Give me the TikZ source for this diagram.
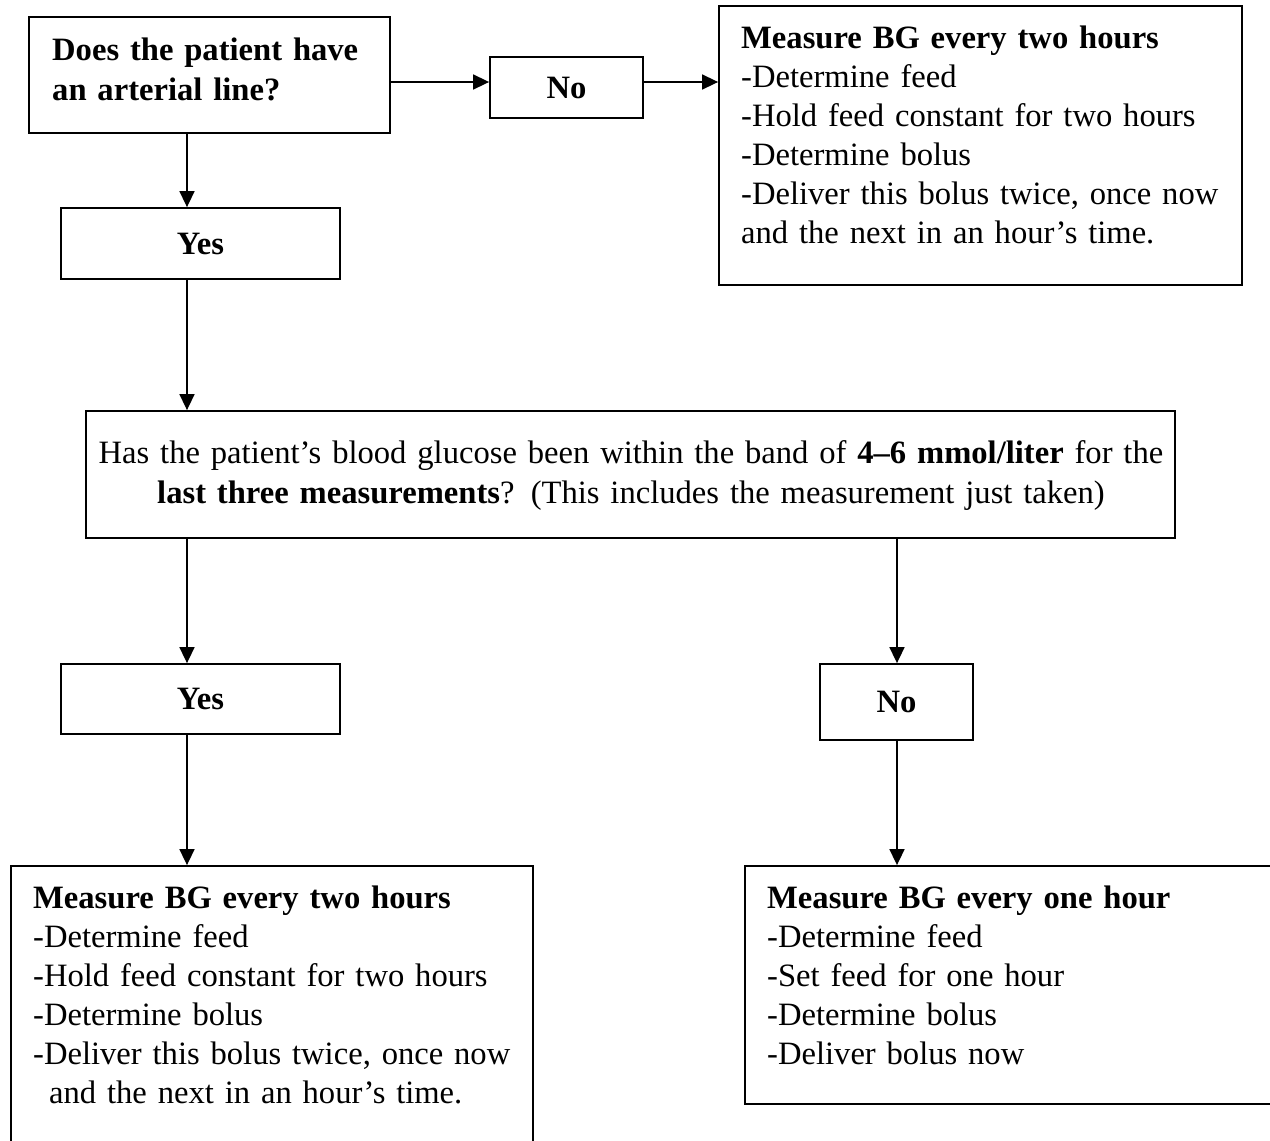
\documentclass[tikz,border=0pt]{standalone}
\usepackage{fontspec}
\setmainfont{Liberation Serif}
\usetikzlibrary{arrows.meta}
\begin{document}
\begin{tikzpicture}[x=1pt,y=-1pt,
  box/.style={draw, line width=1.8pt, inner sep=0pt},
  lbl/.style={font=\fontsize{32.6}{39}\selectfont\bfseries},
  txt/.style={font=\fontsize{32.6}{39}\selectfont, align=left, anchor=base west, inner sep=0pt, text width=#1},
  arr/.style={line width=1.6pt, -{Triangle[length=16pt,width=15pt]}}]
\fill[white] (0,0) rectangle (1270,1141);
\useasboundingbox (0,0) rectangle (1270,1141);
\clip (0,0) rectangle (1270,1141);

% boxes
\node[box, minimum width=361pt, minimum height=116pt] (A) at (209.5,75) {};
\node[box, lbl, minimum width=153pt, minimum height=61pt] (no1) at (566.5,87.5) {No};
\node[box, minimum width=523pt, minimum height=279pt] (R1) at (980.5,145.5) {};
\node[box, lbl, minimum width=279pt, minimum height=71pt] (yes1) at (200.5,243.5) {Yes};
\node[box, minimum width=1089pt, minimum height=127pt] (big) at (630.5,474.5) {};
\node[box, lbl, minimum width=279pt, minimum height=70pt] (yes2) at (200.5,699) {Yes};
\node[box, lbl, minimum width=153pt, minimum height=76pt] (no2) at (896.5,702) {No};
\node[box, minimum width=522pt, minimum height=294pt] (BL) at (272,1013) {};
\node[box, minimum width=545pt, minimum height=238pt] (BR) at (1017.5,985) {};

% texts
\node[txt=340pt, font=\fontsize{32.6}{40}\selectfont\bfseries] (tA) at (52,60)
  {Does the patient have\\an arterial line?};
\node[txt=520pt] (tR1) at (741,48)
  {\textbf{Measure BG every two hours}\\-Determine feed\\-Hold feed constant for two hours\\-Determine bolus\\-Deliver this bolus twice, once now\\and the next in an hour’s time.};
\node[txt=1180pt, align=center, anchor=base, font=\fontsize{32.6}{40}\selectfont] (tbig) at (631,463)
  {Has the patient’s blood glucose been within the band of \textbf{4–6 mmol/liter} for the\\\textbf{last three measurements}? (This includes the measurement just taken)};
\node[txt=510pt] (tBL) at (33,908)
  {\textbf{Measure BG every two hours}\\-Determine feed\\-Hold feed constant for two hours\\-Determine bolus\\-Deliver this bolus twice, once now\\\hspace*{16pt}and the next in an hour’s time.};
\node[txt=495pt] (tBR) at (767,908)
  {\textbf{Measure BG every one hour}\\-Determine feed\\-Set feed for one hour\\-Determine bolus\\-Deliver bolus now};

% connectors
\coordinate (r1) at (0,82);
\coordinate (c1) at (187,0);
\coordinate (c2) at (897,0);
\draw[arr] (A.east |- r1) -- (no1.west |- r1);
\draw[arr] (no1.east |- r1) -- (R1.west |- r1);
\draw[arr] (A.south -| c1) -- (yes1.north -| c1);
\draw[arr] (yes1.south -| c1) -- (big.north -| c1);
\draw[arr] (big.south -| c1) -- (yes2.north -| c1);
\draw[arr] (big.south -| c2) -- (no2.north -| c2);
\draw[arr] (yes2.south -| c1) -- (BL.north -| c1);
\draw[arr] (no2.south -| c2) -- (BR.north -| c2);
\end{tikzpicture}
\end{document}
